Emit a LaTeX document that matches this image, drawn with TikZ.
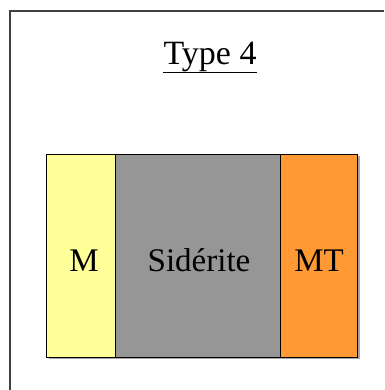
\documentclass[tikz,border=0pt]{standalone}
\usepackage{fontspec}
\setmainfont{Liberation Serif}
\usetikzlibrary{calc}
\begin{document}
\begin{tikzpicture}[x=1pt,y=-1pt,
  band/.style={draw=black,line width=1.2pt,minimum height=203pt,inner sep=0pt,anchor=north west},
  lbl/.style={font=\fontsize{33}{37}\selectfont}]
\useasboundingbox (0,0) rectangle (384,390);
\fill[white] (0,0) rectangle (384,390);
% outer frame (only top and left visible)
\draw[line width=1.5pt,draw=black!75] (10,390) -- (10,11) -- (384,11);
% shadow
\fill[black!35] (48.5,156) rectangle (359.5,359);
% bands
\node[band,fill={rgb,255:red,255;green,255;blue,153},minimum width=69pt] (m) at (46,154) {};
\node[band,fill={rgb,255:red,150;green,150;blue,150},minimum width=165pt] (s) at (115,154) {};
\node[band,fill={rgb,255:red,255;green,153;blue,51},minimum width=77pt] (mt) at (280,154) {};
\node[lbl,anchor=base] (ml) at (84,271) {M};
\node[lbl,anchor=base] (sl) at (199,271) {Sidérite};
\node[lbl,anchor=base] (mtl) at (319,271) {MT};
% title
\node[font=\fontsize{34}{39}\selectfont,anchor=base,inner sep=0pt] (t) at (210,65) {Type 4};
\draw[line width=1.5pt] ($(t.base west)+(0,7.5)$) -- ($(t.base east)+(0,7.5)$);
\end{tikzpicture}
\end{document}
